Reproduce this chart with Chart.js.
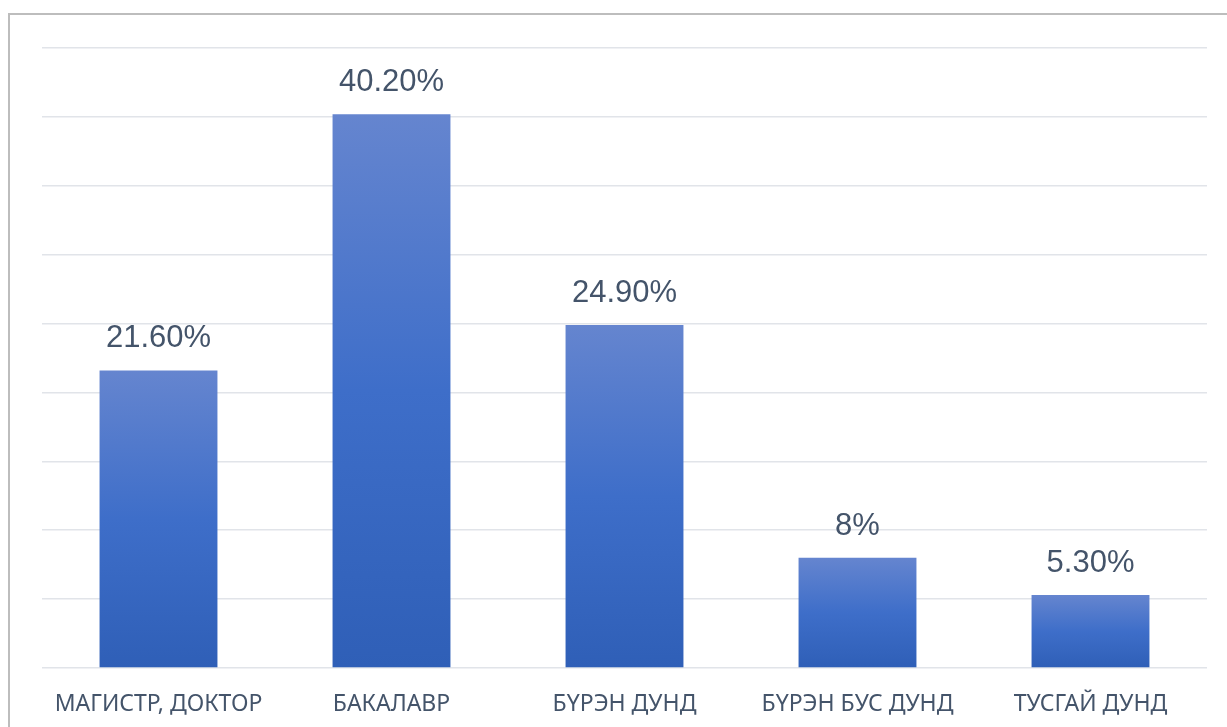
<!DOCTYPE html>
<html>
<head>
<meta charset="utf-8">
<script src="https://cdn.jsdelivr.net/npm/chart.js@4.4.1/dist/chart.umd.min.js"></script>
<style>
  html, body { margin: 0; padding: 0; background: #fff; overflow: hidden; }
  #wrap { position: relative; width: 1227px; height: 727px; }
  #frame { position: absolute; left: 8px; top: 13px; width: 1300px; height: 800px;
           border-left: 2px solid #bdbdbd; border-top: 2px solid #bdbdbd; }
  canvas { position: absolute; left: 0; top: 0; }
</style>
</head>
<body>
<div id="wrap">
  <div id="frame"></div>
  <canvas id="bar-chart" width="1227" height="727"></canvas>
</div>
<script>
// categories and values
categories = ['МАГИСТР, ДОКТОР', 'БАКАЛАВР', 'БҮРЭН ДУНД', 'БҮРЭН БУС ДУНД', 'ТУСГАЙ ДУНД']
values = [21.6, 40.2, 24.9, 8, 5.3]
valueLabels = ['21.60%', '40.20%', '24.90%', '8%', '5.30%']

textColor = '#44546a'

// each bar gets its own light-to-dark gradient
function barGradient(ctx) {
    var chart = ctx.chart
    var y = chart.scales.y
    if (!y || ctx.type !== 'data') return '#3f6ec8'
    var top = y.getPixelForValue(ctx.raw)
    var bot = y.getPixelForValue(0)
    if (!isFinite(top) || !isFinite(bot) || top === bot) return '#3f6ec8'
    var g = chart.ctx.createLinearGradient(0, top, 0, bot)
    g.addColorStop(0, '#6585cf')
    g.addColorStop(0.5, '#3e6ec9')
    g.addColorStop(1, '#2f5fb7')
    return g
}

// simple value labels above the bars
var valueLabelPlugin = {
    id: 'valueLabels',
    afterDatasetsDraw: function (chart) {
        var c = chart.ctx
        var meta = chart.getDatasetMeta(0)
        c.save()
        c.font = '31px "Liberation Sans", Arial, sans-serif'
        c.fillStyle = textColor
        c.textAlign = 'center'
        c.textBaseline = 'alphabetic'
        meta.data.forEach(function (bar, i) {
            c.fillText(valueLabels[i], bar.x, bar.y - 23)
        })
        c.restore()
    }
}

new Chart(document.getElementById('bar-chart'), {
    type: 'bar',
    data: {
        labels: categories,
        datasets: [{
            data: values,
            backgroundColor: barGradient,
            borderWidth: 0,
            categoryPercentage: 1,
            barPercentage: 0.506
        }]
    },
    options: {
        responsive: false,
        animation: false,
        events: [],
        layout: { padding: { left: 42, right: 20, top: 48, bottom: 0 } },
        plugins: {
            legend: { display: false },
            tooltip: { enabled: false }
        },
        scales: {
            x: {
                grid: { display: false, drawTicks: false },
                border: { display: false },
                afterFit: function (scale) { scale.height = 59 },
                ticks: {
                    color: textColor,
                    padding: 23,
                    maxRotation: 0,
                    autoSkip: false,
                    font: { family: '"Noto Sans", sans-serif', size: 23 }
                }
            },
            y: {
                min: 0,
                max: 45,
                grid: { color: '#e1e4e9', lineWidth: 1.5, drawTicks: false },
                border: { display: false },
                ticks: { display: false, stepSize: 5 }
            }
        }
    },
    plugins: [valueLabelPlugin]
});
</script>
</body>
</html>
